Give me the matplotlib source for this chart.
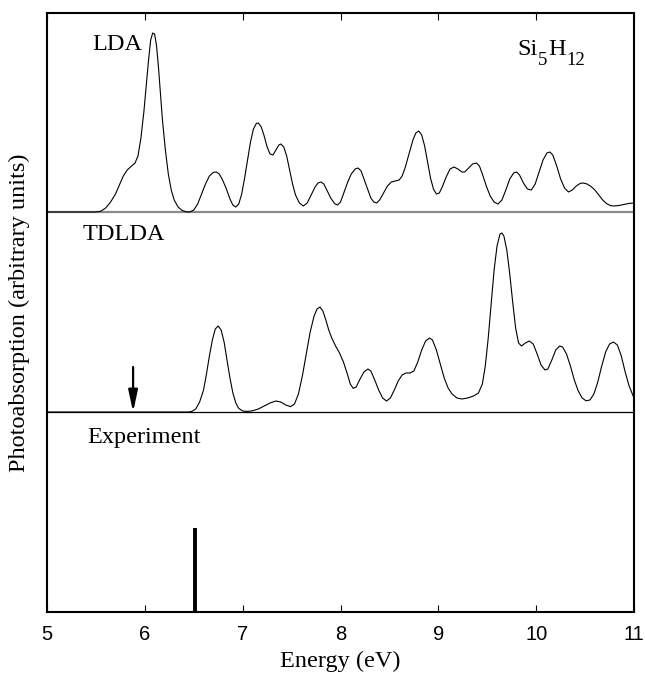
import matplotlib
matplotlib.use("Agg")
import matplotlib.pyplot as plt

# ---------------- data ----------------
lda_points = [
    (5.00, 0.0), (5.50, 0.0), (5.55, 0.004), (5.60, 0.02), (5.65, 0.05), (5.70, 0.09), (5.74, 0.135),
    (5.78, 0.18), (5.82, 0.21), (5.86, 0.228), (5.90, 0.245), (5.93, 0.28), (5.96, 0.37), (5.99, 0.50),
    (6.02, 0.66), (6.04, 0.77), (6.06, 0.86), (6.08, 0.895), (6.10, 0.89), (6.12, 0.83), (6.14, 0.72),
    (6.16, 0.59), (6.18, 0.46), (6.21, 0.31), (6.24, 0.19), (6.27, 0.11), (6.30, 0.06), (6.34, 0.025),
    (6.38, 0.008), (6.42, 0.001), (6.46, 0.0), (6.50, 0.01), (6.54, 0.04), (6.58, 0.09), (6.62, 0.14),
    (6.66, 0.18), (6.70, 0.198), (6.73, 0.20), (6.76, 0.19), (6.79, 0.165), (6.83, 0.12), (6.87, 0.065),
    (6.90, 0.035), (6.93, 0.025), (6.96, 0.04), (6.99, 0.09), (7.02, 0.17), (7.05, 0.26), (7.08, 0.35),
    (7.11, 0.415), (7.14, 0.443), (7.16, 0.445), (7.19, 0.425), (7.22, 0.38), (7.25, 0.325), (7.28, 0.29),
    (7.31, 0.285), (7.34, 0.31), (7.37, 0.335), (7.39, 0.34), (7.42, 0.325), (7.45, 0.28), (7.48, 0.21),
    (7.51, 0.14), (7.54, 0.085), (7.58, 0.045), (7.62, 0.03), (7.66, 0.045), (7.70, 0.085), (7.74, 0.125),
    (7.77, 0.145), (7.80, 0.15), (7.83, 0.14), (7.86, 0.11), (7.90, 0.07), (7.94, 0.042), (7.97, 0.035),
    (8.00, 0.05), (8.03, 0.09), (8.07, 0.145), (8.11, 0.19), (8.15, 0.215), (8.18, 0.22), (8.21, 0.205),
    (8.24, 0.165), (8.28, 0.11), (8.31, 0.07), (8.34, 0.05), (8.37, 0.045), (8.40, 0.06), (8.44, 0.095),
    (8.48, 0.13), (8.52, 0.15), (8.56, 0.155), (8.60, 0.16), (8.63, 0.18), (8.66, 0.22), (8.70, 0.29),
    (8.74, 0.36), (8.77, 0.395), (8.80, 0.405), (8.83, 0.385), (8.86, 0.33), (8.89, 0.25), (8.92, 0.17),
    (8.95, 0.115), (8.98, 0.09), (9.01, 0.095), (9.04, 0.125), (9.08, 0.175), (9.12, 0.215), (9.16, 0.225),
    (9.20, 0.215), (9.24, 0.20), (9.27, 0.20), (9.31, 0.22), (9.35, 0.24), (9.39, 0.245), (9.42, 0.23),
    (9.45, 0.19), (9.49, 0.13), (9.53, 0.08), (9.57, 0.05), (9.61, 0.04), (9.65, 0.06), (9.69, 0.11),
    (9.73, 0.165), (9.77, 0.195), (9.80, 0.20), (9.83, 0.185), (9.87, 0.145), (9.91, 0.115), (9.95, 0.11),
    (9.99, 0.14), (10.03, 0.20), (10.07, 0.26), (10.11, 0.295), (10.14, 0.30), (10.17, 0.285), (10.21, 0.23),
    (10.25, 0.165), (10.29, 0.12), (10.33, 0.10), (10.37, 0.11), (10.41, 0.13), (10.45, 0.143), (10.48, 0.145),
    (10.52, 0.14), (10.56, 0.128), (10.60, 0.11), (10.64, 0.085), (10.68, 0.06), (10.72, 0.042), (10.76, 0.032),
    (10.80, 0.03), (10.85, 0.033), (10.90, 0.038), (10.95, 0.043), (11.00, 0.045),
]

tdlda_points = [
    (5.00, 0.0), (6.45, 0.0), (6.48, 0.003), (6.52, 0.015), (6.56, 0.05), (6.60, 0.11), (6.63, 0.19),
    (6.66, 0.28), (6.69, 0.36), (6.72, 0.415), (6.75, 0.43), (6.78, 0.41), (6.81, 0.35), (6.84, 0.26),
    (6.87, 0.17), (6.90, 0.095), (6.93, 0.045), (6.96, 0.018), (7.00, 0.005), (7.05, 0.003), (7.10, 0.006),
    (7.16, 0.015), (7.22, 0.03), (7.28, 0.045), (7.34, 0.055), (7.39, 0.05), (7.44, 0.035), (7.49, 0.027),
    (7.53, 0.04), (7.57, 0.09), (7.61, 0.18), (7.65, 0.29), (7.69, 0.40), (7.73, 0.48), (7.76, 0.515),
    (7.79, 0.525), (7.82, 0.505), (7.85, 0.46), (7.88, 0.41), (7.91, 0.37), (7.95, 0.33), (7.99, 0.295),
    (8.03, 0.25), (8.07, 0.19), (8.10, 0.14), (8.13, 0.118), (8.16, 0.125), (8.20, 0.165), (8.24, 0.20),
    (8.28, 0.215), (8.31, 0.205), (8.35, 0.16), (8.39, 0.11), (8.43, 0.07), (8.47, 0.055), (8.51, 0.07),
    (8.55, 0.11), (8.59, 0.155), (8.63, 0.185), (8.67, 0.195), (8.71, 0.195), (8.75, 0.205), (8.79, 0.25),
    (8.83, 0.31), (8.87, 0.355), (8.91, 0.37), (8.94, 0.36), (8.98, 0.31), (9.02, 0.24), (9.06, 0.17),
    (9.10, 0.12), (9.14, 0.09), (9.19, 0.07), (9.24, 0.065), (9.30, 0.07), (9.36, 0.08), (9.41, 0.095),
    (9.45, 0.14), (9.48, 0.23), (9.51, 0.37), (9.54, 0.54), (9.57, 0.71), (9.60, 0.83), (9.63, 0.89),
    (9.65, 0.895), (9.67, 0.88), (9.70, 0.81), (9.73, 0.69), (9.76, 0.55), (9.79, 0.42), (9.82, 0.345),
    (9.85, 0.33), (9.89, 0.345), (9.93, 0.355), (9.97, 0.34), (10.01, 0.29), (10.05, 0.235), (10.09, 0.21),
    (10.12, 0.215), (10.16, 0.26), (10.20, 0.31), (10.24, 0.33), (10.27, 0.325), (10.31, 0.29), (10.35, 0.23),
    (10.39, 0.16), (10.43, 0.105), (10.47, 0.07), (10.51, 0.056), (10.55, 0.06), (10.59, 0.09), (10.63, 0.15),
    (10.67, 0.23), (10.71, 0.30), (10.75, 0.34), (10.79, 0.35), (10.83, 0.335), (10.87, 0.28), (10.91, 0.20),
    (10.95, 0.13), (11.00, 0.07),
]

lda_energy, lda_signal = zip(*lda_points)
tdlda_energy, tdlda_signal = zip(*tdlda_points)

experiment_energy = [6.51]
experiment_signal = [0.42]

onset_energy = 5.88           # arrow marking the TDLDA onset
onset_length = 0.225

panel_labels = ["LDA", "TDLDA", "Experiment"]
formula_parts = [("Si", False), ("5", True), ("H", False), ("12", True)]
x_ticks = [5, 6, 7, 8, 9, 10, 11]

# ---------------- figure ----------------
serif = ["Liberation Serif", "DejaVu Serif"]
sans = ["Liberation Sans", "DejaVu Sans"]
fs = 17.5
fs_sub = 13.5

fig = plt.figure(figsize=(6.45, 6.75), dpi=100)
ax = fig.add_axes([47 / 645, 63 / 675, 587 / 645, 599 / 675])

lda_base, tdlda_base, exp_base = 2.0, 1.0, 0.0

ax.axhline(lda_base, color="#8a8a8a", lw=1.6, zorder=1)
ax.axhline(tdlda_base, color="black", lw=0.9, zorder=1)
ax.plot(lda_energy, [lda_base + v for v in lda_signal], color="black", lw=0.8, zorder=2)
ax.plot(tdlda_energy, [tdlda_base + v for v in tdlda_signal], color="black", lw=0.8, zorder=2)

for e, s in zip(experiment_energy, experiment_signal):
    ax.vlines(e, exp_base, exp_base + s, color="black", lw=2.8)

ax.annotate("", xy=(onset_energy, tdlda_base), xytext=(onset_energy, tdlda_base + onset_length),
            arrowprops=dict(arrowstyle="-|>,head_length=1.3,head_width=0.28", color="black", lw=1.6,
                            shrinkA=0, shrinkB=0))

ax.text(5.46, 2.835, panel_labels[0], family=serif, fontsize=fs, va="center", ha="left")
ax.text(5.36, 1.885, panel_labels[1], family=serif, fontsize=fs, va="center", ha="left")
ax.text(5.41, 0.87, panel_labels[2], family=serif, fontsize=fs, va="center", ha="left")

# Si5H12 with large, well-lowered subscripts
first = ax.text(9.81, 2.76, formula_parts[0][0], family=serif, fontsize=fs, va="bottom", ha="left")
prev = first
for txt, is_sub in formula_parts[1:]:
    prev = ax.annotate(txt, xy=(1, 0), xycoords=(prev, first),
                       xytext=(0.3, -6.5 if is_sub else 0), textcoords="offset points",
                       family=serif, fontsize=fs_sub if is_sub else fs, va="bottom", ha="left")

ax.set_xlim(5, 11)
ax.set_ylim(0, 2.995)
ax.set_xticks(x_ticks)
ax.set_xticklabels([str(t) for t in x_ticks], family=sans, fontsize=14.5)
ax.set_yticks([])
ax.tick_params(axis="x", direction="in", top=True, length=5, width=0.8, pad=9)
for sp in ax.spines.values():
    sp.set_linewidth(1.5)

ax.set_xlabel("Energy (eV)", family=serif, fontsize=fs, labelpad=5)
ax.set_ylabel("Photoabsorption (arbitrary units)", family=serif, fontsize=fs, labelpad=12)

fig.savefig("out.png", dpi=100)
